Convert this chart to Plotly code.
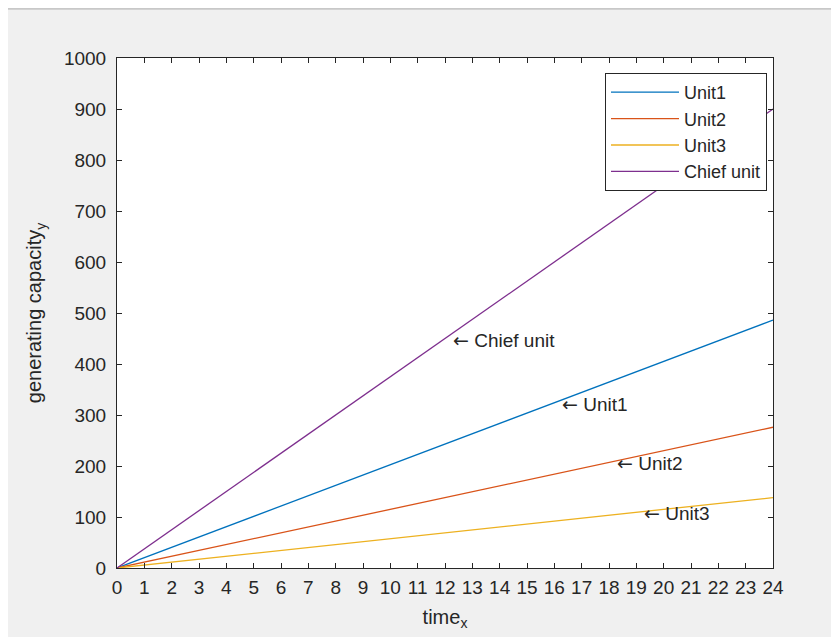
import plotly.graph_objects as go

# Data
time_x = [0, 24]
unit1 = [0, 486]
unit2 = [0, 276]
unit3 = [0, 138]
chief = [0, 900]

series_names = ["Unit1", "Unit2", "Unit3", "Chief unit"]
series_values = [unit1, unit2, unit3, chief]
series_colors = ["#0072BD", "#D95319", "#EDB120", "#7E2F8E"]

# label positions (x, y) on each line
label_texts = ["Chief unit", "Unit1", "Unit2", "Unit3"]
label_x = [12, 16, 18, 19]
label_y = [450, 324, 207, 109]

x_ticks = list(range(0, 25))
y_ticks = list(range(0, 1001, 100))

FONT = "Liberation Sans, Arial, sans-serif"
INK = "#262626"

fig = go.Figure()
for name, vals, col in zip(series_names, series_values, series_colors):
    fig.add_trace(go.Scatter(x=time_x, y=vals, mode="lines", name=name,
                             line=dict(color=col, width=1.3)))

for t, x, y in zip(label_texts, label_x, label_y):
    fig.add_annotation(x=x, y=y,
                       text='<span style="font-family:DejaVu Sans">←</span> ' + t,
                       showarrow=False, xanchor="left",
                       yanchor="middle", xshift=6, yshift=-1,
                       font=dict(family=FONT, size=19, color=INK))

# thin gray frame line at the top of the figure
fig.add_shape(type="line", xref="paper", yref="paper", x0=-0.2, x1=1.2,
              y0=1 + 49.3 / 510, y1=1 + 49.3 / 510, line=dict(color="#c8c8c8", width=2))

axis_common = dict(showgrid=False, zeroline=False, showline=True, linecolor=INK,
                   linewidth=1, mirror="ticks", ticks="inside", ticklen=5,
                   tickcolor=INK, tickwidth=1,
                   tickfont=dict(family=FONT, size=19, color=INK))

fig.update_layout(
    width=831, height=629,
    margin=dict(l=109, r=66, t=50, b=61),
    paper_bgcolor="#f0f0f0", plot_bgcolor="white",
    xaxis=dict(range=[0, 24], tickvals=x_ticks, ticklabelstandoff=2,
               title=dict(text="time<sub>x</sub>", standoff=13,
                          font=dict(family=FONT, size=20, color=INK)),
               **axis_common),
    yaxis=dict(range=[0, 1000], tickvals=y_ticks, ticklabelstandoff=6,
               title=dict(text="generating capacity<sub>y</sub>", standoff=16,
                          font=dict(family=FONT, size=20, color=INK)),
               **axis_common),
    legend=dict(x=(767 - 117) / 656, y=(568 - 73) / 510, xanchor="right", yanchor="top",
                bgcolor="white", bordercolor=INK, borderwidth=1,
                font=dict(family=FONT, size=18, color=INK),
                tracegroupgap=0, itemwidth=68),
    showlegend=True,
)

fig.write_html("out.html")
